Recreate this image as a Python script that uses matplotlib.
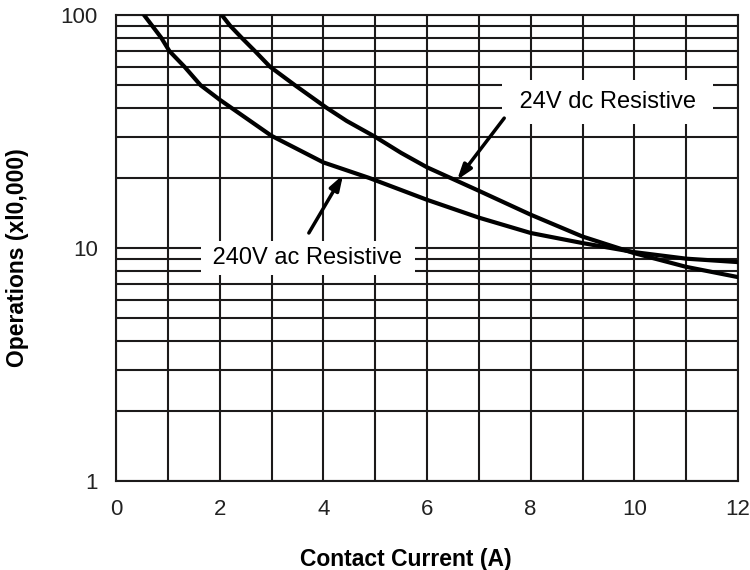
import matplotlib
matplotlib.use("Agg")
import matplotlib.pyplot as plt
from matplotlib.ticker import FixedLocator, FixedFormatter, LogLocator, NullFormatter

plt.rcParams['font.family'] = ['Liberation Sans', 'DejaVu Sans']

# curve readings (contact current in A, operations x10,000)
ac_current = [0.54, 0.87, 1.03, 1.32, 1.63, 2, 3, 4, 4.88, 6, 7, 8, 9, 10, 11, 12]
ac_ops = [100, 80, 70, 60, 50, 43.3, 30.3, 23.3, 20, 16.1, 13.5, 11.6, 10.5, 9.6, 9.0, 8.7]

dc_current = [2.04, 2.2, 2.42, 2.68, 2.97, 3.45, 4.06, 4.45, 5, 5.5, 6, 6.45, 7, 8, 9, 10, 11, 12]
dc_ops = [100, 90, 80, 70, 60, 50, 40, 35.1, 30, 25.6, 22.2, 20, 17.6, 13.9, 11.2, 9.5, 8.3, 7.5]

x_ticks = [0, 2, 4, 6, 8, 10, 12]
y_ticks = [1, 10, 100]
y_tick_labels = ['1', '10', '100']

grid_col = '#1c1a1a'

fig = plt.figure(figsize=(7.5, 5.7), dpi=100)
ax = fig.add_axes([0.1547, 0.1561, 0.8293, 0.8176])

ax.set_xlim(0, 12)
ax.set_yscale('log')
ax.set_ylim(1, 100)

ax.plot(ac_current, ac_ops, color='black', lw=3, solid_joinstyle='round', zorder=3)
ax.plot(dc_current, dc_ops, color='black', lw=3, solid_joinstyle='round', zorder=3)

# grid
ax.xaxis.set_major_locator(FixedLocator(x_ticks))
ax.xaxis.set_minor_locator(FixedLocator(range(0, 13)))
ax.yaxis.set_major_locator(FixedLocator(y_ticks))
ax.yaxis.set_major_formatter(FixedFormatter(y_tick_labels))
ax.yaxis.set_minor_locator(LogLocator(base=10, subs=range(2, 10)))
ax.yaxis.set_minor_formatter(NullFormatter())
ax.grid(which='both', color=grid_col, lw=1.5, zorder=1)
ax.set_axisbelow(True)
for s in ax.spines.values():
    s.set_color(grid_col)
    s.set_linewidth(1.5)
ax.tick_params(which='both', length=0, labelsize=16, colors='#222222', pad=13)

ax.set_xlabel('Contact Current (A)', fontsize=16.5, fontweight='bold')
ax.set_ylabel('Operations (xl0,000)', fontsize=16.5, fontweight='bold')
ax.xaxis.set_label_coords(0.466, -0.143)
ax.yaxis.set_label_coords(-0.14, 0.479)

arrow = dict(arrowstyle='-|>,head_length=0.9,head_width=0.3', color='black', lw=2.5,
             shrinkA=0, shrinkB=0)

ax.annotate('', xy=(6.58, 19.6), xytext=(7.49, 36.1), arrowprops=arrow, zorder=4)
ax.text(9.49, 42.3, ' 24V dc Resistive ', fontsize=17, ha='center', va='center',
        bbox=dict(boxstyle='square,pad=0.45', fc='white', ec='none'), zorder=2.5)

ax.annotate('', xy=(4.38, 20.6), xytext=(3.72, 11.6), arrowprops=arrow, zorder=4)
ax.text(3.70, 9.06, ' 240V ac Resistive ', fontsize=17, ha='center', va='center',
        bbox=dict(boxstyle='square,pad=0.25', fc='white', ec='none'), zorder=2.5)

fig.savefig('out.png', dpi=100)
